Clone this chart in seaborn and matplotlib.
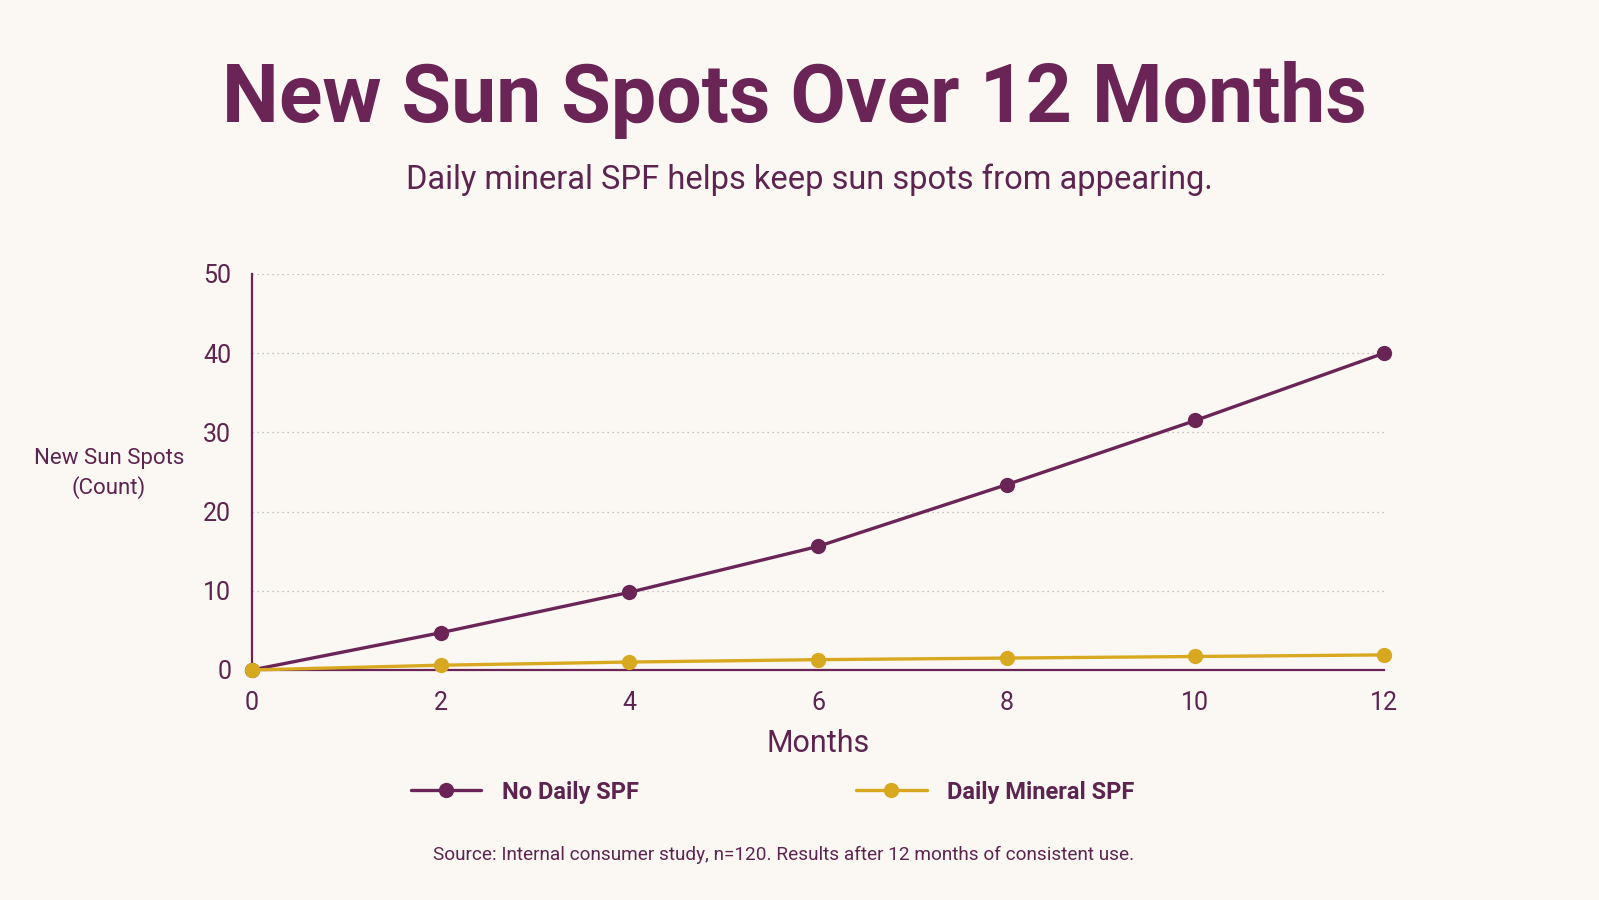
import numpy as np
import pandas as pd
import matplotlib
matplotlib.use("Agg")
import matplotlib.pyplot as plt
import seaborn as sns

# data
months = [0, 2, 4, 6, 8, 10, 12]
no_spf = [0, 4.7, 9.8, 15.6, 23.4, 31.5, 40]
mineral_spf = [0, 0.6, 1.0, 1.3, 1.5, 1.7, 1.9]
series_names = ["No Daily SPF", "Daily Mineral SPF"]
y_ticks = [0, 10, 20, 30, 40, 50]

PURPLE = "#6b2456"
TEXT = "#5e2450"
GOLD = "#d8a920"
BG = "#fbf8f3"

df = pd.DataFrame({
    "Months": months * 2,
    "Count": no_spf + mineral_spf,
    "Series": [series_names[0]] * len(months) + [series_names[1]] * len(months),
})

sns.set_theme(style="white")
plt.rcParams["font.family"] = ["Roboto", "DejaVu Sans"]

fig = plt.figure(figsize=(15.99, 9), dpi=100, facecolor=BG)
ax = fig.add_axes([0.1576, 0.2556, 0.708, 0.44], facecolor=BG)

sns.lineplot(data=df, x="Months", y="Count", hue="Series", palette=[PURPLE, GOLD],
             marker="o", markersize=11, markeredgewidth=0, linewidth=2.4,
             ax=ax, zorder=3, legend=False)
for line in ax.lines:
    line.set_clip_on(False)

ax.set_xlim(0, 12)
ax.set_ylim(0, 50)
ax.set_xticks(months)
ax.set_yticks(y_ticks)
ax.tick_params(axis="both", colors="#9a7a92", labelcolor=TEXT, labelsize=18,
               length=6, width=1, direction="out")
ax.tick_params(axis="y", pad=9)
ax.tick_params(axis="x", pad=9)

ax.grid(axis="y", linestyle=(0, (1, 3)), color="#b8b0aa", linewidth=0.9)
ax.grid(axis="x", visible=False)
for side in ["top", "right"]:
    ax.spines[side].set_visible(False)
for side in ["left", "bottom"]:
    ax.spines[side].set_color(PURPLE)
    ax.spines[side].set_linewidth(1.6)

ax.set_xlabel("Months", fontsize=22, color=TEXT, labelpad=10)
ax.set_ylabel("")
fig.text(0.068, 0.474, "New Sun Spots\n(Count)", ha="center", va="center",
         fontsize=16, color=TEXT, linespacing=1.35)

fig.text(0.497, 0.889, "New Sun Spots Over 12 Months", ha="center", va="center",
         fontsize=58, fontweight="semibold", color=PURPLE)
fig.text(0.506, 0.80, "Daily mineral SPF helps keep sun spots from appearing.",
         ha="center", va="center", fontsize=23.5, color=TEXT)

handles = [plt.Line2D([], [], color=c, lw=2.4, marker="o", markersize=11, markeredgewidth=0)
           for c in [PURPLE, GOLD]]
leg = fig.legend(handles, series_names, loc="center", bbox_to_anchor=(0.483, 0.12),
                 ncol=2, frameon=False, handlelength=3.0, handletextpad=0.85,
                 columnspacing=9.2, prop={"size": 17, "weight": "semibold"})
for t in leg.get_texts():
    t.set_color(TEXT)

fig.text(0.49, 0.05, "Source: Internal consumer study, n=120. Results after 12 months of consistent use.",
         ha="center", va="center", fontsize=13.7, color=TEXT)

fig.savefig("out.png", dpi=100, facecolor=BG)
